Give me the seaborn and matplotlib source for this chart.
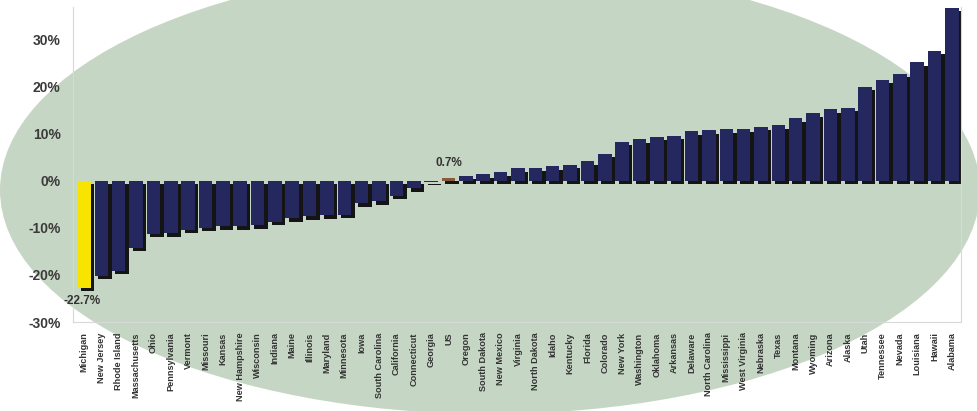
import matplotlib
matplotlib.use("Agg")
import matplotlib.pyplot as plt
import matplotlib.transforms as mtransforms
from matplotlib.patches import Ellipse
from matplotlib.ticker import FuncFormatter
import seaborn as sns
import pandas as pd

states = ["Michigan", "New Jersey", "Rhode Island", "Massachusetts", "Ohio", "Pennsylvania",
          "Vermont", "Missouri", "Kansas", "New Hampshire", "Wisconsin", "Indiana", "Maine",
          "Illinois", "Maryland", "Minnesota", "Iowa", "South Carolina", "California",
          "Connecticut", "Georgia", "US", "Oregon", "South Dakota", "New Mexico", "Virginia",
          "North Dakota", "Idaho", "Kentucky", "Florida", "Colorado", "New York", "Washington",
          "Oklahoma", "Arkansas", "Delaware", "North Carolina", "Mississippi", "West Virginia",
          "Nebraska", "Texas", "Montana", "Wyoming", "Arizona", "Alaska", "Utah", "Tennessee",
          "Nevada", "Louisiana", "Hawaii", "Alabama"]

values = [-22.7, -20.2, -19.1, -14.2, -11.2, -11.1, -10.4, -9.9, -9.6, -9.6, -9.4, -8.7, -7.9,
          -7.5, -7.3, -7.2, -4.7, -4.3, -3.1, -1.5, -0.2, 0.7, 1.1, 1.4, 1.8, 2.7,
          2.8, 3.1, 3.4, 4.2, 5.8, 8.3, 8.9,
          9.4, 9.6, 10.6, 10.8, 11.0, 11.1,
          11.5, 11.9, 13.3, 14.4, 15.2, 15.6, 20.0, 21.5,
          22.8, 25.2, 27.7, 36.8]

y_ticks = [-30, -20, -10, 0, 10, 20, 30]
labelled = {"Michigan": "-22.7%", "US": "0.7%"}

NAVY = "#25275f"
colors = {s: NAVY for s in states}
colors["Michigan"] = "#f7e400"
colors["US"] = "#8b5a3c"

df = pd.DataFrame({"state": states, "value": [v / 100 for v in values]})

W, H = 977, 411
fig = plt.figure(figsize=(W / 100, H / 100), dpi=100, facecolor="white")

# background ellipse (figure pixel coordinates)
ell = Ellipse((490, H - 190), 980, 448, angle=0, facecolor="#c6d6c4",
              edgecolor="none", transform=mtransforms.IdentityTransform(), zorder=-5)
fig.patches.append(ell)

ax = fig.add_axes([73 / W, 1 - 322 / H, (961 - 73) / W, (322 - 7) / H])
ax.set_zorder(2)
ax.set_facecolor("none")

# shadow bars
sns.barplot(data=df, x="state", y="value", color="#141414", width=0.78,
            saturation=1, ax=ax, zorder=2)
shadow = list(ax.patches)
off = mtransforms.ScaledTranslation(0.035, -0.035, fig.dpi_scale_trans)
for p in shadow:
    p.set_transform(ax.transData + off)

sns.barplot(data=df, x="state", y="value", hue="state", palette=colors, width=0.78,
            saturation=1, legend=False, dodge=False, ax=ax, zorder=3)

ax.set_xlim(-0.63, 50.52)
ax.set_ylim(-0.30, 0.37)
ax.set_yticks([t / 100 for t in y_ticks])
ax.yaxis.set_major_formatter(FuncFormatter(lambda v, p: f"{v*100:.0f}%"))
ax.set_xlabel("")
ax.set_ylabel("")

for lab in ax.get_xticklabels():
    lab.set_rotation(90)
ax.tick_params(axis="x", labelsize=6.6, length=0, pad=7.5, colors="#333333")
ax.tick_params(axis="y", labelsize=10, length=0, pad=9, colors="#3a3a3a")
for lab in ax.get_xticklabels() + ax.get_yticklabels():
    lab.set_fontfamily("Liberation Sans")
    lab.set_fontweight("bold")

for s in ["left", "bottom", "right"]:
    ax.spines[s].set_color("#d8d8d8")
    ax.spines[s].set_linewidth(0.8)
ax.spines["top"].set_visible(False)

for i, s in enumerate(states):
    if s in labelled:
        v = values[i] / 100
        va = "top" if v < 0 else "bottom"
        dy = -0.016 if v < 0 else 0.018
        ax.text(i - 0.1 if v < 0 else i, v + dy, labelled[s], ha="center", va=va, fontsize=8.5,
                fontweight="bold", color="#333333", family="Liberation Sans", zorder=5)

fig.savefig("out.png", dpi=100, facecolor="white")
